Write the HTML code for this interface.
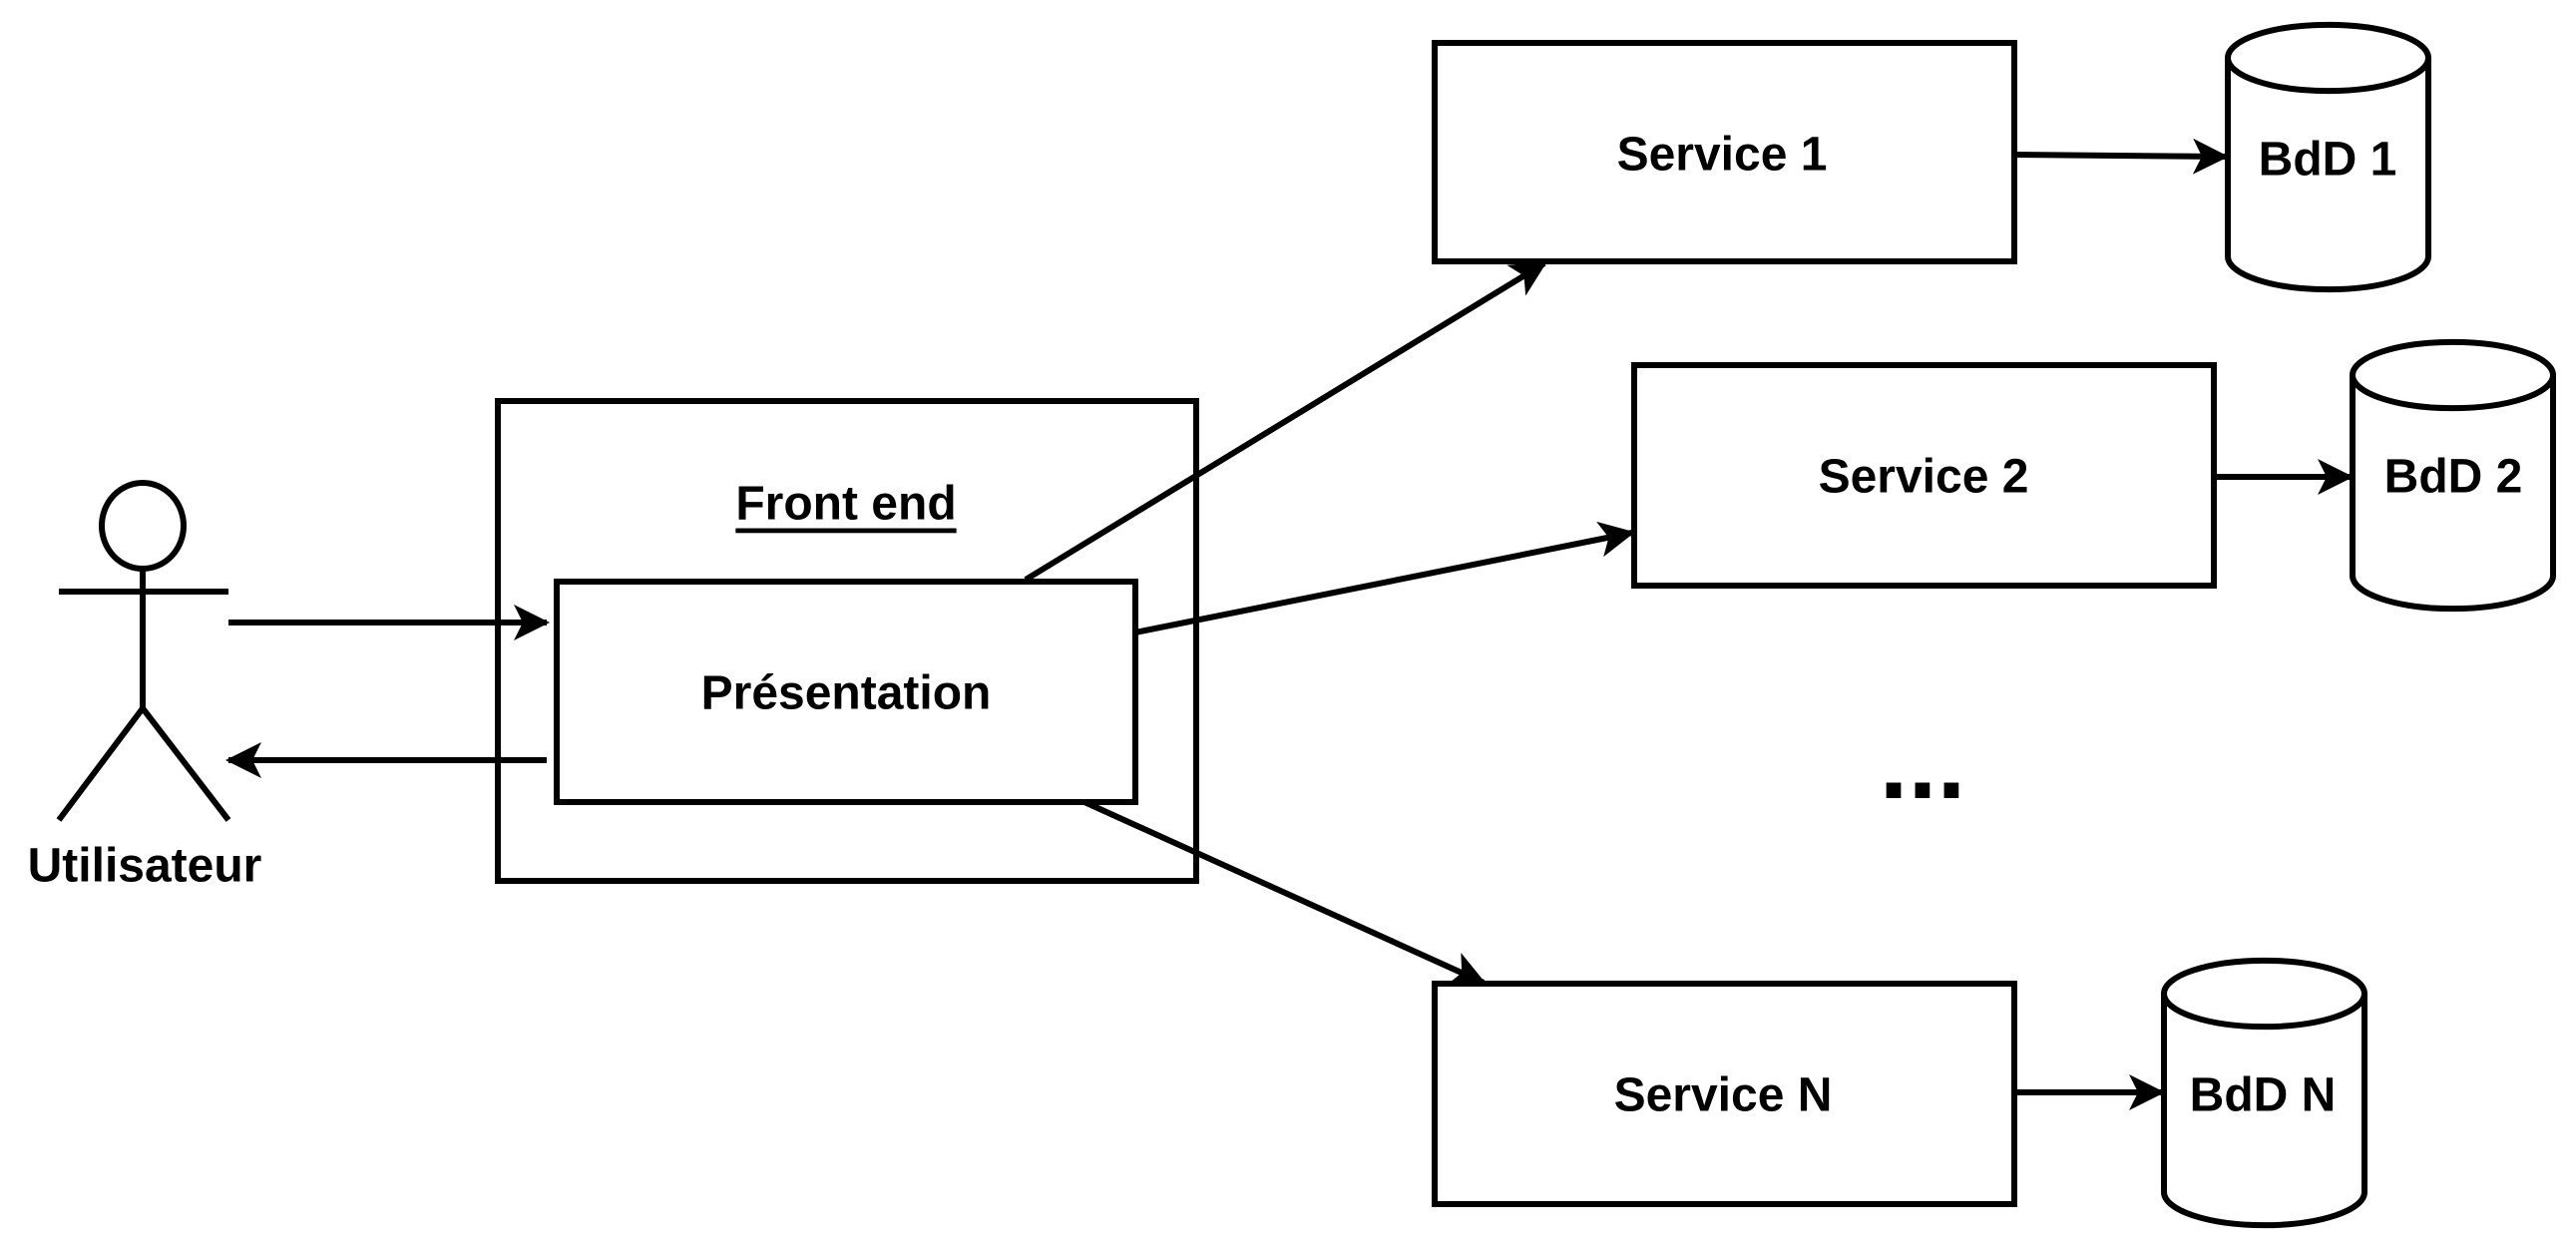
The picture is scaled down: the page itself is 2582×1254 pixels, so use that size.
<!DOCTYPE html>
<html><head><meta charset="utf-8"><style>
html,body{margin:0;padding:0;background:#fff;}
svg{display:block;}
text{font-family:"Liberation Sans",Arial,sans-serif;font-weight:bold;fill:#000;}
</style></head><body>
<svg width="2582" height="1254" viewBox="0 0 2582 1254" xmlns="http://www.w3.org/2000/svg">
<defs>
<marker id="ar" viewBox="0 0 12 12" refX="11" refY="6" markerWidth="6" markerHeight="6" orient="auto">
<path d="M0,0 L12,6 L0,12 L3,6 Z" fill="#000"/>
</marker>
</defs>
<g fill="none" stroke="#000" stroke-width="6">
<rect x="499" y="402" width="700" height="481" fill="#fff"/>
<rect x="558" y="583" width="580" height="221" fill="#fff"/>
<rect x="1438" y="43" width="581" height="219" fill="#fff"/>
<rect x="1638" y="366" width="581" height="221" fill="#fff"/>
<rect x="1438" y="986" width="581" height="221" fill="#fff"/>
<path d="M2233,58 A100,33 0 0 1 2434,58 L2434,257 A100,33 0 0 1 2233,257 Z M2233,58 A100,33 0 0 0 2434,58" fill="#fff"/>
<path d="M2358,376 A100,33 0 0 1 2559,376 L2559,577 A100,33 0 0 1 2358,577 Z M2358,376 A100,33 0 0 0 2559,376" fill="#fff"/>
<path d="M2169,996 A100,33 0 0 1 2370,996 L2370,1195 A100,33 0 0 1 2169,1195 Z M2169,996 A100,33 0 0 0 2370,996" fill="#fff"/>
<ellipse cx="143" cy="527" rx="41" ry="43"/>
<line x1="143" y1="570" x2="143" y2="710"/>
<line x1="59" y1="593" x2="229" y2="593"/>
<line x1="143" y1="710" x2="59" y2="822"/>
<line x1="143" y1="710" x2="229" y2="822"/>
<g marker-end="url(#ar)">
<line x1="229" y1="624" x2="548" y2="624"/>
<line x1="548" y1="762" x2="229" y2="762"/>
<line x1="1028" y1="581" x2="1548" y2="264"/>
<line x1="1138" y1="634" x2="1636" y2="534"/>
<line x1="1087" y1="804" x2="1487" y2="985"/>
<line x1="2019" y1="155" x2="2231" y2="157"/>
<line x1="2219" y1="478" x2="2356" y2="478"/>
<line x1="2019" y1="1095" x2="2167" y2="1095"/>
</g>
</g>
<g font-size="48" text-anchor="middle" dominant-baseline="central">
<text x="848" y="505" text-decoration="underline">Front end</text>
<text x="848" y="695">Présentation</text>
<text x="1726" y="155">Service 1</text>
<text x="1928" y="478">Service 2</text>
<text x="1727" y="1098">Service N</text>
<text x="2333" y="160">BdD 1</text>
<text x="2459" y="478">BdD 2</text>
<text x="2268" y="1098">BdD N</text>
<text x="145" y="868">Utilisateur</text>
<text x="1927" y="765" font-size="104">...</text>
</g>
</svg>
</body></html>
